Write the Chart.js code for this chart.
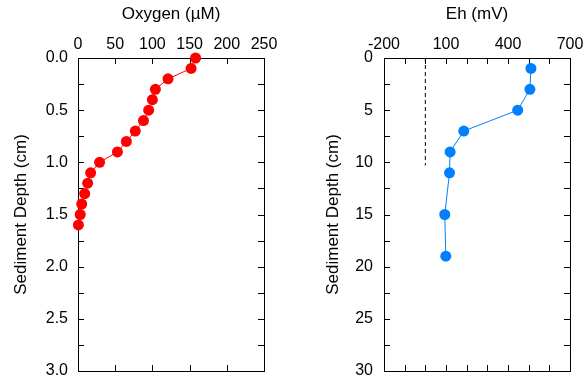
<!DOCTYPE html>
<html>
<head>
<meta charset="utf-8">
<script src="https://cdn.jsdelivr.net/npm/chart.js@4"></script>
<style>
  body { margin: 0; background: #fff; }
  #wrap { position: relative; width: 587px; height: 385px; }
  canvas { position: absolute; top: 0; }
</style>
</head>
<body>
<div id="wrap">
  <canvas id="chartOxygen" width="290" height="385" style="left:0"></canvas>
  <canvas id="chartEh" width="287" height="385" style="left:300px"></canvas>
</div>
<script>
// oxygen profile
const oxyDepth = [0, 0.1, 0.2, 0.3, 0.4, 0.5, 0.6, 0.7, 0.8, 0.9, 1.0, 1.1, 1.2, 1.3, 1.4, 1.5, 1.6];
const oxyValues = [158, 152, 121, 104, 100, 95, 88, 77, 65, 53, 29, 17, 13, 9, 5, 3, 0.5];

// Eh profile
const ehDepth = [1, 3, 5, 7, 9, 11, 15, 19];
const ehValues = [511, 506, 447, 186, 120, 117, 94, 99];

// dashed reference line at Eh = 0
const refEh = [0, 0];
const refDepth = [0, 10.3];

const FONT = "'Liberation Sans', Arial, sans-serif";
Chart.defaults.font.family = FONT;
Chart.defaults.color = '#000';

function toPoints(xs, ys) {
    return xs.map((x, i) => ({ x: x, y: ys[i] }));
}

// box round the plot with inward ticks on all sides
const frame = {
    id: 'frame',
    beforeDatasetsDraw(chart) {
        const ctx = chart.ctx;
        const a = chart.chartArea;
        const sx = chart.scales.x;
        const sy = chart.scales.y;
        const len = 6;
        ctx.save();
        ctx.strokeStyle = '#000';
        ctx.lineWidth = 1;
        ctx.strokeRect(Math.round(a.left) + 0.5, Math.round(a.top) + 0.5,
            Math.round(a.right - a.left), Math.round(a.bottom - a.top));
        ctx.beginPath();
        sx.ticks.forEach(t => {
            const px = Math.round(sx.getPixelForValue(t.value)) + 0.5;
            ctx.moveTo(px, a.top); ctx.lineTo(px, a.top + len);
            ctx.moveTo(px, a.bottom); ctx.lineTo(px, a.bottom - len);
        });
        sy.ticks.forEach(t => {
            const py = Math.round(sy.getPixelForValue(t.value)) + 0.5;
            ctx.moveTo(a.left, py); ctx.lineTo(a.left + len, py);
            ctx.moveTo(a.right, py); ctx.lineTo(a.right - len, py);
        });
        ctx.stroke();
        ctx.restore();
    }
};

function makeChart(id, cfg) {
    return new Chart(document.getElementById(id).getContext('2d'), {
        type: 'scatter',
        data: { datasets: cfg.datasets },
        options: {
            responsive: false,
            animation: false,
            devicePixelRatio: 1,
            layout: { padding: { left: 0, top: 0, right: cfg.padRight, bottom: 14 } },
            plugins: { legend: { display: false }, tooltip: { enabled: false } },
            scales: {
                x: {
                    type: 'linear',
                    position: 'top',
                    min: cfg.xMin, max: cfg.xMax,
                    afterFit(scale) {
                        scale.height = 58;
                        scale.paddingLeft = 0;
                        scale.paddingRight = 0;
                    },
                    grid: { display: false, drawTicks: false },
                    border: { display: false },
                    ticks: {
                        stepSize: cfg.xStep, autoSkip: false, maxRotation: 0,
                        padding: 4, font: { size: 16 },
                        callback: cfg.xLabel
                    },
                    title: {
                        display: true, text: cfg.xTitle,
                        font: { size: 17 }, padding: { top: 4, bottom: 0 }
                    }
                },
                y: {
                    type: 'linear',
                    reverse: true,
                    min: 0, max: cfg.yMax,
                    afterFit(scale) {
                        scale.width = cfg.yWidth;
                        scale.paddingTop = 0;
                        scale.paddingBottom = 0;
                    },
                    grid: { display: false, drawTicks: false },
                    border: { display: false },
                    ticks: {
                        stepSize: cfg.yStep, autoSkip: false,
                        padding: cfg.yPad, font: { size: 16 },
                        callback: cfg.yLabel
                    },
                    title: {
                        display: true, text: 'Sediment Depth (cm)',
                        font: { size: 17 }, padding: { top: cfg.yTitlePad, bottom: 0 }
                    }
                }
            }
        },
        plugins: [frame]
    });
}

document.addEventListener('DOMContentLoaded', function () {
    makeChart('chartOxygen', {
        datasets: [{
            data: toPoints(oxyValues, oxyDepth),
            showLine: true,
            borderColor: '#ff0000',
            backgroundColor: '#ff0000',
            borderWidth: 1,
            pointRadius: 5.5,
            pointBorderWidth: 0,
            clip: false
        }],
        xMin: 0, xMax: 250, xStep: 50,
        xLabel: v => v,
        xTitle: 'Oxygen (µM)',
        yMax: 3, yStep: 0.25,
        yLabel: v => (v % 0.5 === 0 ? v.toFixed(1) : ''),
        yWidth: 78, yPad: 10, yTitlePad: 11,
        padRight: 26
    });

    makeChart('chartEh', {
        datasets: [{
            data: toPoints(ehValues, ehDepth),
            showLine: true,
            borderColor: 'rgb(0,128,255)',
            backgroundColor: 'rgb(0,128,255)',
            borderWidth: 1,
            pointRadius: 5.5,
            pointBorderWidth: 0,
            clip: false
        }, {
            data: toPoints(refEh, refDepth),
            showLine: true,
            borderColor: '#000',
            borderWidth: 1,
            borderDash: [4, 3],
            pointRadius: 0
        }],
        xMin: -200, xMax: 700, xStep: 100,
        xLabel: v => ((v + 200) % 300 === 0 ? v : ''),
        xTitle: 'Eh (mV)',
        yMax: 30, yStep: 2.5,
        yLabel: v => (v % 5 === 0 ? v : ''),
        yWidth: 84, yPad: 11, yTitlePad: 23,
        padRight: 17
    });
});
</script>
</body>
</html>
